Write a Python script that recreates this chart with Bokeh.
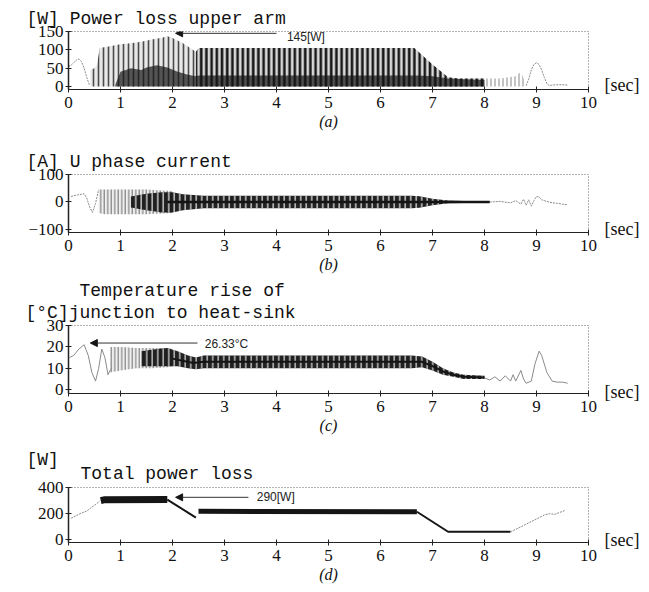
from bokeh.plotting import figure
from bokeh.layouts import column
from bokeh.models import Label, Arrow, NormalHead, FixedTicker, Range1d, LinearAxis
from bokeh.embed import file_html
from bokeh.resources import INLINE

# ---------------- data ----------------
x_ticks = [0, 1, 2, 3, 4, 5, 6, 7, 8, 9, 10]

# (a) Power loss upper arm [W]
a_start_t = [0.0, 0.05, 0.1, 0.15, 0.2, 0.25, 0.3, 0.35, 0.4]
a_start_w = [55, 58, 65, 72, 75, 68, 50, 25, 5]
a_spk1_t = [0.42, 0.5, 0.55, 0.6, 0.8, 1.0, 1.2, 1.4, 1.6, 1.8, 1.9, 2.0, 2.2, 2.45]
a_spk1_w = [45, 50, 60, 105, 110, 115, 118, 122, 128, 133, 137, 132, 118, 95]
a_spk2_t = [2.45, 2.5, 6.65, 7.0, 7.3, 7.5, 8.0]
a_spk2_w = [95, 105, 105, 60, 25, 22, 22]
a_base_t = [0.9, 1.0, 1.2, 1.4, 1.5, 1.7, 1.9, 2.1, 2.3, 2.45, 2.5, 6.7, 7.0, 7.3, 7.6, 8.0]
a_base_w = [5, 40, 50, 45, 52, 58, 52, 40, 32, 28, 30, 30, 28, 22, 20, 18]
a_tail_t = [8.0, 8.3, 8.6, 8.7, 8.8]
a_tail_w = [22, 22, 28, 40, 5]
a_bump_t = [8.8, 8.85, 8.9, 8.95, 9.0, 9.05, 9.1, 9.15, 9.2, 9.25, 9.3, 9.45, 9.6]
a_bump_w = [2, 20, 45, 60, 65, 60, 45, 25, 8, 2, 4, 5, 4]
a_ticks = [0, 50, 100, 150]

# (b) U phase current [A]
b_start_t = [0.05, 0.15, 0.25, 0.3, 0.35, 0.4, 0.46, 0.52, 0.58]
b_start_a = [20, 25, 28, 30, 15, -15, -38, -5, 45]
b_spk_t = [0.58, 0.7, 1.0, 1.5, 1.8, 2.0]
b_spk_hi = [45, 45, 45, 45, 42, 40]
b_spk_lo = [-40, -45, -45, -45, -42, -40]
b_core_t = [1.2, 1.5, 1.8, 2.0, 2.2, 2.4, 2.6, 6.6, 6.75, 7.0, 7.3, 7.6, 8.1]
b_core_hi = [20, 30, 35, 35, 28, 25, 23, 23, 21, 12, 5, 4, 3]
b_core_lo = [-20, -30, -38, -38, -30, -26, -23, -23, -21, -12, -5, -4, -3]
b_neck_t = [1.9, 7.0, 7.3, 8.1]
b_neck_a = [0, 0, 0, 0]
b_tail_t = [8.1, 8.3, 8.5, 8.6, 8.7, 8.75, 8.8, 8.85, 8.9, 8.95, 9.0, 9.05, 9.1, 9.2, 9.3, 9.4, 9.5, 9.6]
b_tail_a = [0, 2, -3, 5, -8, 10, -12, 8, -15, 5, 20, 18, 8, 2, -3, -5, -8, -10]
b_ticks = [-100, 0, 100]

# (c) Temperature rise of junction to heat-sink [degC]
c_start_t = [0.02, 0.1, 0.2, 0.3, 0.38, 0.45, 0.52, 0.58, 0.64, 0.7, 0.76, 0.82]
c_start_v = [15, 16, 19, 21, 16, 8, 4, 10, 19, 15, 7, 10]
c_spk_t = [0.8, 1.0, 1.3, 1.6, 1.9, 2.0]
c_spk_hi = [20, 20, 19.5, 19.5, 19.5, 19]
c_spk_lo = [8, 9, 10, 10, 10.5, 11]
c_core_t = [1.4, 1.7, 1.9, 2.1, 2.3, 2.45, 2.6, 6.6, 6.8, 7.0, 7.2, 7.4, 7.6, 8.0]
c_core_hi = [18, 19, 19.5, 18, 16, 15, 16, 16, 15.5, 13, 10, 8, 7, 6.5]
c_core_lo = [11, 11, 11, 11, 10, 9.5, 10, 10, 10.5, 9, 7, 6, 5, 5]
c_neck_t = [2.0, 2.4, 2.6, 6.6, 6.8, 7.0, 7.2, 7.4, 7.6, 8.0]
c_neck_v = [14.5, 12.5, 13, 13, 13, 11, 8.5, 7, 6, 5.7]
c_tail_t = [8.0, 8.1, 8.2, 8.3, 8.4, 8.5, 8.55, 8.6, 8.7, 8.75, 8.8, 8.9, 8.97, 9.05, 9.1, 9.2, 9.3, 9.4, 9.5, 9.6]
c_tail_v = [5.5, 4.5, 6, 4, 6.5, 4, 7, 4, 9, 5, 3, 4, 12, 18, 16, 8, 4, 3.5, 3.5, 3]
c_ticks = [0, 10, 20, 30]

# (d) Total power loss [W]
d_start_t = [0.05, 0.15, 0.25, 0.35, 0.45, 0.6]
d_start_w = [165, 185, 205, 220, 250, 295]
d_plat1_t = [0.62, 0.7, 1.9]
d_plat1_w = [300, 307, 308]
d_fall1_t = [1.9, 2.45]
d_fall1_w = [308, 170]
d_plat2_t = [2.5, 6.7]
d_plat2_w = [218, 215]
d_fall2_t = [6.7, 7.3, 8.5]
d_fall2_w = [215, 62, 62]
d_end_t = [8.5, 8.6, 8.75, 8.9, 9.0, 9.15, 9.25, 9.35, 9.45, 9.55]
d_end_w = [62, 80, 110, 140, 160, 190, 200, 195, 210, 225]
d_ticks = [0, 200, 400]

# ---------------- styling helpers ----------------
SERIF = "Liberation Serif"
MONO = "Liberation Mono"
SANS = "Liberation Sans"
DARK = "#151515"
GREY = "#8a8a8a"
TXT = "#111111"
NB = "\u00a0"


def make_fig(height, top, bottom, yr, yticks, tag, title, title_offset, sec_y,
             line_h=1.2, ylabel_over=None):
    p = figure(width=646, height=height, x_range=Range1d(0, 10), y_range=Range1d(*yr),
               output_backend="svg", toolbar_location=None,
               min_border_left=68, min_border_right=58,
               min_border_top=top, min_border_bottom=bottom)
    p.xgrid.visible = False
    p.ygrid.visible = False
    p.outline_line_color = "#666666"
    p.outline_line_dash = "1 2"
    p.xaxis.ticker = FixedTicker(ticks=x_ticks)
    p.yaxis.ticker = FixedTicker(ticks=yticks)
    p.xaxis.minor_tick_line_color = None
    p.yaxis.minor_tick_line_color = None
    yax = p.left[0]
    for ax in (p.below[0], yax):
        ax.major_label_text_font = SERIF
        ax.major_label_text_font_size = "17px"
        ax.major_label_text_color = TXT
        ax.axis_line_color = "#222222"
        ax.major_tick_line_color = "#222222"
    yax.axis_line_width = 1.5
    if ylabel_over:
        yax.major_label_overrides = ylabel_over
    p.xaxis.major_tick_in = 3
    p.xaxis.major_tick_out = 3
    p.xaxis.major_label_standoff = 4
    yax.major_tick_in = 3
    yax.major_tick_out = 3
    yax.major_label_standoff = 2
    p.xaxis.axis_label = tag
    p.xaxis.axis_label_text_font = SERIF
    p.xaxis.axis_label_text_font_style = "italic"
    p.xaxis.axis_label_text_font_size = "16px"
    p.xaxis.axis_label_standoff = 2
    p.xaxis.axis_label_text_color = TXT
    # title (unit + name) in the top border
    p.title.text = title
    p.title.align = "left"
    p.title.offset = title_offset
    p.title.text_font = MONO
    p.title.text_font_size = "18px"
    p.title.text_font_style = "normal"
    p.title.text_color = TXT
    p.title.text_line_height = line_h
    p.title.standoff = 6
    # "[sec]" written as the only label of a bare right axis
    sec_axis = LinearAxis(ticker=FixedTicker(ticks=[sec_y]),
                          major_label_overrides={sec_y: "[sec]"},
                          axis_line_color=None, major_tick_line_color=None,
                          minor_tick_line_color=None, major_label_standoff=10,
                          major_label_text_font=SERIF, major_label_text_font_size="18px",
                          major_label_text_color=TXT)
    p.add_layout(sec_axis, "right")
    return p


def arrow_note(p, x0, x1, y, txt, tx, ty):
    p.add_layout(Arrow(end=NormalHead(size=7, fill_color=DARK, line_color=DARK),
                       x_start=x0, y_start=y, x_end=x1, y_end=y,
                       line_color="#333333", line_width=1))
    p.add_layout(Label(x=tx, y=ty, text=txt, text_font=SANS, text_font_size="12px",
                       text_baseline="middle", text_align="left", text_color="#222222"))


# ---------------- (a) ----------------
pa = make_fig(140, 31, 51, (-8.2, 150), a_ticks, "(a)", "[W]" + NB + "Power loss upper arm", -42, 5)
pa.line(a_start_t, a_start_w, line_color=GREY, line_width=1, line_dash="2 1")
pa.varea(x=a_spk1_t, y1=[0] * len(a_spk1_t), y2=a_spk1_w, fill_color="#d9d9d9", fill_alpha=0.6,
         hatch_pattern="|", hatch_color="#4a4a4a", hatch_scale=5, hatch_weight=1.6)
pa.varea(x=a_spk2_t, y1=[0] * len(a_spk2_t), y2=a_spk2_w, fill_color="#d4d4d4", fill_alpha=0.9,
         hatch_pattern="|", hatch_color="#1a1a1a", hatch_scale=5.2, hatch_weight=2.6)
pa.varea(x=a_base_t, y1=[0] * len(a_base_t), y2=a_base_w, fill_color=DARK, fill_alpha=0.7)
pa.varea(x=a_tail_t, y1=[0] * len(a_tail_t), y2=a_tail_w, fill_alpha=0,
         hatch_pattern="|", hatch_color="#888888", hatch_scale=4, hatch_weight=1)
pa.line(a_bump_t, a_bump_w, line_color=GREY, line_width=1, line_dash="2 1")
arrow_note(pa, 4.0, 2.06, 145, "145[W]", 4.2, 134)

# ---------------- (b) ----------------
pb = make_fig(135, 34, 41, (-111, 100), b_ticks, "(b)", "[A]" + NB + "U phase current", -42, -100,
              ylabel_over={-100: "\u2212100"})
pb.line(b_start_t, b_start_a, line_color=GREY, line_width=1, line_dash="2 1")
pb.varea(x=b_spk_t, y1=b_spk_lo, y2=b_spk_hi, fill_color="#e0e0e0", fill_alpha=0.5,
         hatch_pattern="|", hatch_color="#6a6a6a", hatch_scale=3.5, hatch_weight=1)
pb.varea(x=b_core_t, y1=b_core_lo, y2=b_core_hi, fill_color=DARK, fill_alpha=0.95,
         hatch_pattern="|", hatch_color="white", hatch_alpha=0.8, hatch_scale=5.5, hatch_weight=1.4)
pb.line(b_neck_t, b_neck_a, line_color=DARK, line_width=2.5)
pb.line(b_tail_t, b_tail_a, line_color=GREY, line_width=1, line_dash="2 1")

# ---------------- (c) ----------------
pc = make_fig(170, 48, 52, (-1.8, 30), c_ticks, "(c)",
              NB * 5 + "Temperature" + NB + "rise" + NB + "of\n[\u00b0C]junction" + NB + "to" + NB + "heat-sink",
              -43, -1, line_h=1.1)
pc.line(c_start_t, c_start_v, line_color=GREY, line_width=1)
pc.varea(x=c_spk_t, y1=c_spk_lo, y2=c_spk_hi, fill_color="#e0e0e0", fill_alpha=0.5,
         hatch_pattern="|", hatch_color="#707070", hatch_scale=3.5, hatch_weight=1)
pc.varea(x=c_core_t, y1=c_core_lo, y2=c_core_hi, fill_color=DARK, fill_alpha=0.95,
         hatch_pattern="|", hatch_color="white", hatch_alpha=0.75, hatch_scale=5.5, hatch_weight=1.4)
pc.line(c_neck_t, c_neck_v, line_color=DARK, line_width=2)
pc.line(c_tail_t, c_tail_v, line_color=GREY, line_width=1)
arrow_note(pc, 2.48, 0.42, 21.8, "26.33\u00b0C", 2.62, 21.2)

# ---------------- (d) ----------------
pd_ = make_fig(143, 33, 46, (-20, 400), d_ticks, "(d)",
               "[W]\n" + NB * 5 + "Total" + NB + "power" + NB + "loss", -42, 0, line_h=0.72)
pd_.line(d_start_t, d_start_w, line_color=GREY, line_width=1, line_dash="2 1")
pd_.line(d_plat1_t, d_plat1_w, line_color=DARK, line_width=7)
pd_.line(d_fall1_t, d_fall1_w, line_color=DARK, line_width=2)
pd_.line(d_plat2_t, d_plat2_w, line_color=DARK, line_width=5)
pd_.line(d_fall2_t, d_fall2_w, line_color=DARK, line_width=2)
pd_.line(d_end_t, d_end_w, line_color=GREY, line_width=1, line_dash="2 1")
arrow_note(pd_, 3.46, 2.06, 325, "290[W]", 3.62, 325)

layout = column(pa, pb, pc, pd_, spacing=0)
open("out.html", "w").write(file_html(layout, INLINE))
